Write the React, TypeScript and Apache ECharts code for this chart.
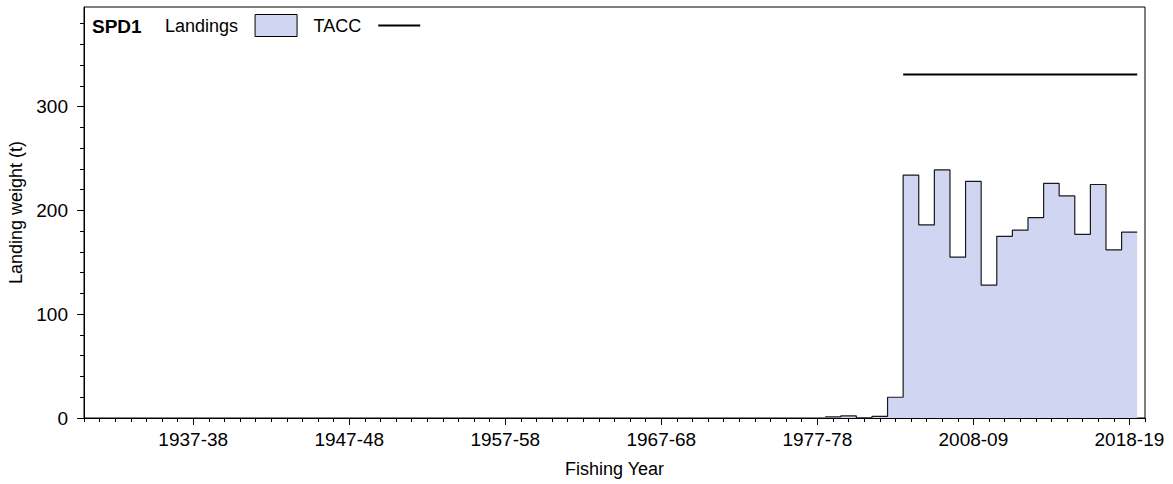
import React, { useEffect, useRef } from "react";
import * as echarts from "echarts";

// Fishing-year categories on the x axis (continuous early block, then a later block)
const earlyYears = [1930, 1977];
const lateYears = [1999, 2019];
const season = (y: number) => `${y}-${String((y + 1) % 100).padStart(2, "0")}`;
const categories: string[] = [];
for (let y = earlyYears[0]; y <= earlyYears[1]; y++) categories.push(season(y));
for (let y = lateYears[0]; y <= lateYears[1]; y++) categories.push(season(y));

// Labelled x ticks
const xTickLabels = ["1937-38", "1947-48", "1957-58", "1967-68", "1977-78", "2008-09", "2018-19"];

// Landings (t), starting at 1999-00
const landingsStart = "1999-00";
const landings = [1, 2, 0, 1.5, 20, 234, 186, 239, 155, 228, 128, 175, 181, 193, 226, 214, 177, 225, 162, 179];

// TACC (t), starting at 2004-05
const taccStart = "2004-05";
const tacc = [331, 331, 331, 331, 331, 331, 331, 331, 331, 331, 331, 331, 331, 331, 331];

// y ticks
const yMajor = [0, 100, 200, 300];
const yMinor = [0, 20, 40, 60, 80, 100, 120, 140, 160, 180, 200, 220, 240, 260, 280, 300, 320, 340, 360, 380];
const yMax = 396;

const FONT = '"Liberation Sans", Arial, sans-serif';
const FILL = "#d0d5f1";

function stepPoints(startSeason: string, values: number[]) {
  const s = categories.indexOf(startSeason);
  const pts: number[][] = values.map((v, k) => [s + k - 0.5, v]);
  pts.push([s + values.length - 0.5, values[values.length - 1]]);
  return pts;
}

export default function App() {
  const ref = useRef<HTMLDivElement>(null);
  useEffect(() => {
    if (!ref.current) return;
    const chart = echarts.init(ref.current, undefined, { renderer: "svg" });
    const xMax = categories.length - 1;
    const allIdx = categories.map((_, i) => i);
    const majorIdx = xTickLabels.map((l) => categories.indexOf(l));
    chart.setOption({
      animation: false,
      backgroundColor: "#fff",
      textStyle: { fontFamily: FONT },
      grid: {
        left: 84,
        right: 28,
        top: 7,
        bottom: 66,
        show: true,
        containLabel: false,
        outerBoundsMode: "none",
        borderColor: "#000",
        borderWidth: 1,
        backgroundColor: "transparent",
      },
      graphic: [
        {
          type: "text",
          left: 92,
          top: 17,
          style: { text: "SPD1", font: `bold 19px ${FONT}`, fill: "#000" },
        },
      ],
      legend: {
        left: 165,
        top: 14,
        padding: 0,
        align: "right",
        itemWidth: 42,
        itemHeight: 22,
        itemGap: 16,
        selectedMode: false,
        textStyle: { fontSize: 18, color: "#000", fontFamily: FONT, padding: [0, 12, 0, 0] },
        data: [
          {
            name: "Landings",
            icon: "rect",
            itemStyle: { color: FILL, borderColor: "#000", borderWidth: 1 },
          },
          {
            name: "TACC",
            icon: "path://M0,0H42V2H0Z",
            itemStyle: { color: "#000", borderWidth: 0 },
          },
        ],
      },
      xAxis: [
        {
          type: "value",
          min: 0,
          max: xMax,
          position: "bottom",
          axisLine: { show: true, lineStyle: { color: "#000", width: 1 } },
          axisTick: { show: true, customValues: allIdx, length: 4, lineStyle: { color: "#000" } },
          axisLabel: { show: false },
          splitLine: { show: false },
        },
        {
          type: "value",
          min: 0,
          max: xMax,
          position: "bottom",
          axisLine: { show: false },
          axisTick: { show: true, customValues: majorIdx, length: 7, lineStyle: { color: "#000" } },
          axisLabel: {
            show: true,
            customValues: majorIdx,
            formatter: (v: number) => categories[Math.round(v)],
            fontSize: 19,
            color: "#000",
            margin: 12,
            fontFamily: FONT,
          },
          splitLine: { show: false },
          name: "Fishing Year",
          nameLocation: "middle",
          nameGap: 42,
          nameTextStyle: { fontSize: 18, color: "#000", fontFamily: FONT },
        },
      ],
      yAxis: [
        {
          type: "value",
          min: 0,
          max: yMax,
          position: "left",
          axisLine: { show: true, lineStyle: { color: "#000", width: 1 } },
          axisTick: { show: true, customValues: yMinor, length: 4, lineStyle: { color: "#000" } },
          axisLabel: { show: false },
          splitLine: { show: false },
        },
        {
          type: "value",
          min: 0,
          max: yMax,
          position: "left",
          axisLine: { show: false },
          axisTick: { show: true, customValues: yMajor, length: 7, lineStyle: { color: "#000" } },
          axisLabel: {
            show: true,
            customValues: yMajor,
            fontSize: 19,
            color: "#000",
            margin: 16,
            fontFamily: FONT,
          },
          splitLine: { show: false },
          name: "Landing weight (t)",
          nameLocation: "middle",
          nameGap: 56,
          nameTextStyle: { fontSize: 18, color: "#000", fontFamily: FONT },
        },
      ],
      series: [
        {
          name: "Landings",
          type: "line",
          xAxisIndex: 0,
          yAxisIndex: 0,
          step: "end",
          symbol: "none",
          data: stepPoints(landingsStart, landings),
          lineStyle: { color: "#1a1a1a", width: 1.2 },
          itemStyle: { color: FILL, borderColor: "#000" },
          areaStyle: { color: FILL, opacity: 1 },
          z: 2,
        },
        {
          name: "TACC",
          type: "line",
          xAxisIndex: 0,
          yAxisIndex: 0,
          step: "end",
          symbol: "none",
          data: stepPoints(taccStart, tacc),
          lineStyle: { color: "#000", width: 2 },
          itemStyle: { color: "#000" },
          z: 3,
        },
      ],
    });
    return () => chart.dispose();
  }, []);
  return (
    <div
      ref={ref}
      style={{ position: "fixed", left: 0, top: 0, width: 1173, height: 484, background: "#fff" }}
    />
  );
}
